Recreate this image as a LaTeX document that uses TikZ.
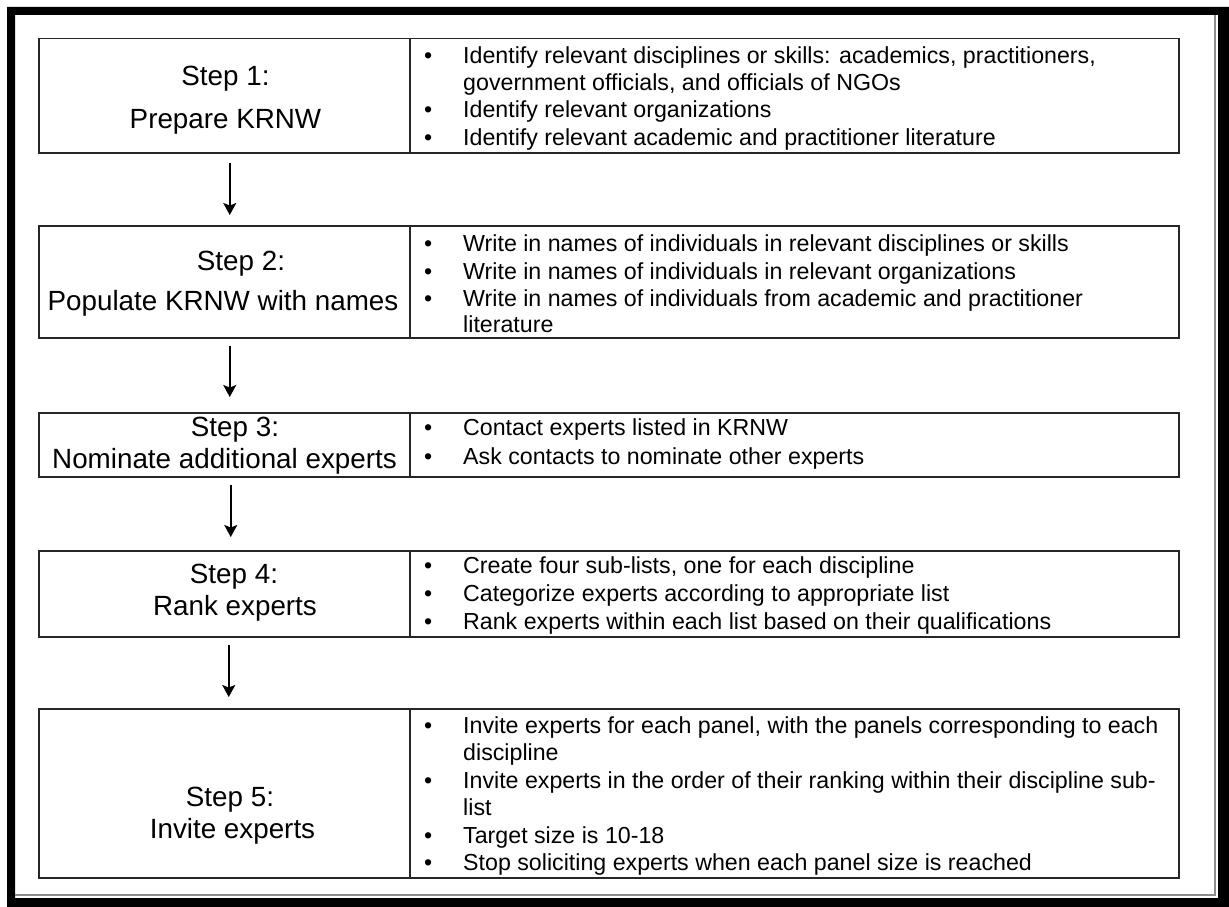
\documentclass[tikz,border=0pt]{standalone}
\usepackage{fontspec}
\setmainfont{Liberation Sans}
\usetikzlibrary{arrows.meta}

% bullet with a fixed-width slot, and the matching indent for wrapped lines
\newcommand\itemmark{\makebox[39pt][l]{\textbullet}}
\newcommand\itemgap{\hspace*{39pt}}

\begin{document}
\begin{tikzpicture}[x=1pt,y=-1pt,
  panel/.style={draw=black!85, line width=1.5pt, inner sep=0pt, anchor=north west},
  steptext/.style={anchor=base, inner sep=0pt, font=\fontsize{27.8}{33}\selectfont},
  itemlist/.style={anchor=base west, inner sep=0pt},
  flow/.style={-{Stealth[length=12pt,width=13pt,inset=2.5pt]}, line width=1.6pt}]

\useasboundingbox[fill=white] (0,0) rectangle (1229,907);

% heavy outer frame with a grey inner rule on the right and bottom
\fill[black, even odd rule] (7,7) rectangle (1229,907) (15,15) rectangle (1218,898);
\draw[black!45, line width=2pt] (15,895) -- (1215,895) -- (1215,15);

% step boxes (left) and detail boxes (right)
\node[panel, minimum width=371pt, minimum height=114pt] (b1) at (38,38) {};
\node[panel, minimum width=769pt, minimum height=114pt] (d1) at (409,38) {};
\node[panel, minimum width=371pt, minimum height=112pt] (b2) at (38,225) {};
\node[panel, minimum width=769pt, minimum height=112pt] (d2) at (409,225) {};
\node[panel, minimum width=371pt, minimum height=64pt] (b3) at (38,412) {};
\node[panel, minimum width=769pt, minimum height=64pt] (d3) at (409,412) {};
\node[panel, minimum width=371pt, minimum height=86pt] (b4) at (38,550) {};
\node[panel, minimum width=769pt, minimum height=86pt] (d4) at (409,550) {};
\node[panel, minimum width=371pt, minimum height=169pt] (b5) at (38,708) {};
\node[panel, minimum width=769pt, minimum height=169pt] (d5) at (409,708) {};

% step titles
\node[steptext] (s1a) at (225.5,85) {Step 1:};
\node[steptext] (s1b) at (225.5,128.3) {Prepare KRNW};
\node[steptext] (s2a) at (241,270) {Step 2:};
\node[steptext] (s2b) at (223,310) {Populate KRNW with names};
\node[steptext] (s3a) at (235,436.7) {Step 3:};
\node[steptext] (s3b) at (224.5,468.3) {Nominate additional experts};
\node[steptext] (s4a) at (234,583.3) {Step 4:};
\node[steptext] (s4b) at (235,615) {Rank experts};
\node[steptext] (s5a) at (230,806) {Step 5:};
\node[steptext] (s5b) at (232.5,838.3) {Invite experts};

% bullet lists, each anchored at the baseline of its first line
\node[itemlist, font=\fontsize{23.2}{27.3}\selectfont] (l1) at (424,63.3) {%
\begin{tabular}[t]{@{}l@{}}
\itemmark Identify relevant disciplines or skills: academics, practitioners,\\
\itemgap government officials, and officials of NGOs\\
\itemmark Identify relevant organizations\\
\itemmark Identify relevant academic and practitioner literature
\end{tabular}};

\node[itemlist, font=\fontsize{23.2}{27.6}\selectfont] (l2) at (424,251.7) {%
\begin{tabular}[t]{@{}l@{}}
\itemmark Write in names of individuals in relevant disciplines or skills\\
\itemmark Write in names of individuals in relevant organizations\\
\itemmark Write in names of individuals from academic and practitioner\\[-2pt]
\itemgap literature
\end{tabular}};

\node[itemlist, font=\fontsize{23.2}{28.6}\selectfont] (l3) at (424,435.7) {%
\begin{tabular}[t]{@{}l@{}}
\itemmark Contact experts listed in KRNW\\
\itemmark Ask contacts to nominate other experts
\end{tabular}};

\node[itemlist, font=\fontsize{23.2}{27.9}\selectfont] (l4) at (424,573.3) {%
\begin{tabular}[t]{@{}l@{}}
\itemmark Create four sub-lists, one for each discipline\\
\itemmark Categorize experts according to appropriate list\\
\itemmark Rank experts within each list based on their qualifications
\end{tabular}};

\node[itemlist, font=\fontsize{23.2}{27.5}\selectfont] (l5) at (424,733.3) {%
\begin{tabular}[t]{@{}l@{}}
\itemmark Invite experts for each panel, with the panels corresponding to each\\
\itemgap discipline\\
\itemmark Invite experts in the order of their ranking within their discipline sub-\\
\itemgap list\\
\itemmark Target size is 10-18\\
\itemmark Stop soliciting experts when each panel size is reached
\end{tabular}};

% flow between steps
\draw[flow] ([xshift=5.5pt,yshift=-9pt]b1.south) -- ([xshift=5.5pt,yshift=10pt]b2.north);
\draw[flow] ([xshift=5.5pt,yshift=-7pt]b2.south) -- ([xshift=5.5pt,yshift=15pt]b3.north);
\draw[flow] ([xshift=6.5pt,yshift=-7pt]b3.south) -- ([xshift=6.5pt,yshift=13pt]b4.north);
\draw[flow] ([xshift=4.5pt,yshift=-7pt]b4.south) -- ([xshift=4.5pt,yshift=11pt]b5.north);
\end{tikzpicture}
\end{document}
